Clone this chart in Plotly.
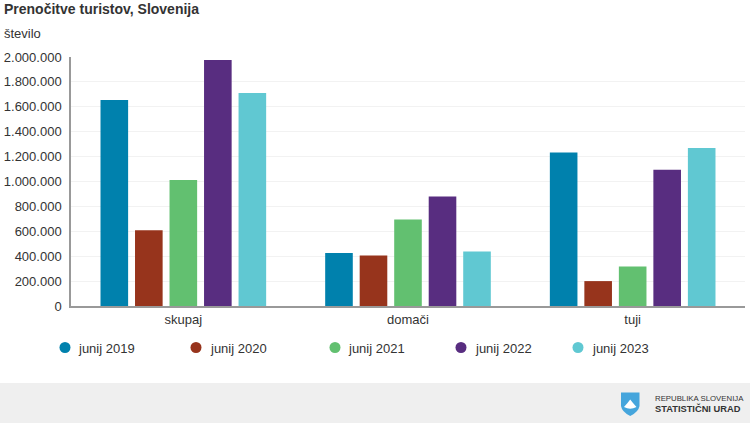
import plotly.graph_objects as go

categories = ["skupaj", "domači", "tuji"]
series_names = ["junij 2019", "junij 2020", "junij 2021", "junij 2022", "junij 2023"]
colors = ["#0081ad", "#97341c", "#62c070", "#582d80", "#60c8d2"]
v2019 = [1654000, 425000, 1232000]
v2020 = [608000, 405000, 200000]
v2021 = [1012000, 695000, 318000]
v2022 = [1976000, 880000, 1095000]
v2023 = [1711000, 437000, 1270000]
all_values = [v2019, v2020, v2021, v2022, v2023]
tick_vals = [0, 200000, 400000, 600000, 800000, 1000000, 1200000, 1400000, 1600000, 1800000, 2000000]
tick_text = ["0", "200.000", "400.000", "600.000", "800.000", "1.000.000", "1.200.000", "1.400.000", "1.600.000", "1.800.000", "2.000.000"]

W, H = 750, 423
L, R, T, B = 71, 5, 57, 117
FONT = "Liberation Sans, Arial, sans-serif"
TXT = "#333333"

def px(x):
    return (x - L) / (W - L - R)

def py(y):
    return 1 - (y - T) / (H - T - B)

fig = go.Figure()
for name, vals, c in zip(series_names, all_values, colors):
    fig.add_trace(go.Bar(x=categories, y=vals, name=name, marker=dict(color=c, line=dict(width=0)),
                         showlegend=False))

shapes = []
annotations = []

# footer band
shapes.append(dict(type="rect", xref="paper", yref="paper", x0=px(0), x1=px(W), y0=py(383), y1=py(423),
                   fillcolor="#efefef", line_width=0, layer="below"))

# legend
marker_x = [65, 196, 335, 461, 578]
text_x = [76, 208, 346, 473, 590]
for mx, tx, name, c in zip(marker_x, text_x, series_names, colors):
    shapes.append(dict(type="circle", xref="paper", yref="paper", x0=px(mx - 5.5), x1=px(mx + 5.5),
                       y0=py(347.5 + 5.5), y1=py(347.5 - 5.5), fillcolor=c, line_width=0))
    annotations.append(dict(text=name, xref="paper", yref="paper", x=px(tx), y=py(348), xanchor="left",
                            yanchor="middle", showarrow=False, font=dict(size=13, color=TXT, family=FONT)))

# title, unit
annotations.append(dict(text="<b>Prenočitve turistov, Slovenija</b>", xref="paper", yref="paper", x=px(2), y=py(9),
                        xanchor="left", yanchor="middle", showarrow=False, font=dict(size=14, color=TXT, family=FONT)))
annotations.append(dict(text="število", xref="paper", yref="paper", x=px(2), y=py(34), xanchor="left",
                        yanchor="middle", showarrow=False, font=dict(size=13, color=TXT, family=FONT)))

# footer text
annotations.append(dict(text="REPUBLIKA SLOVENIJA", xref="paper", yref="paper", x=px(653), y=py(398), xanchor="left",
                        yanchor="middle", showarrow=False, font=dict(size=7.8, color=TXT, family=FONT)))
annotations.append(dict(text="<b>STATISTIČNI URAD</b>", xref="paper", yref="paper", x=px(653), y=py(408.5), xanchor="left",
                        yanchor="middle", showarrow=False, font=dict(size=9.3, color=TXT, family=FONT)))

# emblem
def pt(x, y):
    return f"{px(x):.5f},{py(y):.5f}"

shield = "M " + pt(621, 392.5) + " L " + pt(639.5, 392.5) + " L " + pt(639.5, 406) + " Q " + pt(638.5, 412) + " " + pt(630.2, 416) + " Q " + pt(622, 412) + " " + pt(621, 406) + " Z"
shapes.append(dict(type="path", xref="paper", yref="paper", path=shield, fillcolor="#45a5dc", line_width=0))
mount = "M " + pt(624, 407) + " L " + pt(627.5, 403) + " L " + pt(630.2, 399.5) + " L " + pt(633, 403) + " L " + pt(636.5, 407) + " Q " + pt(630.2, 410.5) + " " + pt(624, 407) + " Z"
shapes.append(dict(type="path", xref="paper", yref="paper", path=mount, fillcolor="#ffffff", line_width=0))

fig.update_layout(
    width=W, height=H, autosize=False,
    margin=dict(l=L, r=R, t=T, b=B, pad=0),
    paper_bgcolor="white", plot_bgcolor="white",
    barmode="group", bargap=0.232, bargroupgap=0.2,
    font=dict(family=FONT, size=13, color=TXT),
    shapes=shapes, annotations=annotations,
    xaxis=dict(showgrid=False, showline=True, linecolor="#999999", linewidth=1.5, ticks="",
               tickfont=dict(size=13, color=TXT), ticklabelstandoff=1, automargin=False),
    yaxis=dict(range=[0, 2000000], tickvals=tick_vals, ticktext=tick_text, showgrid=True, gridcolor="#f2f2f2", gridwidth=1,
               showline=True, linecolor="#999999", linewidth=1.5, ticks="", zeroline=False,
               tickfont=dict(size=13, color=TXT), ticklabelstandoff=5, automargin=False),
)
fig.write_html("out.html", config={"displayModeBar": False},
               post_script="document.body.style.margin='0';document.body.style.overflow='hidden';")
